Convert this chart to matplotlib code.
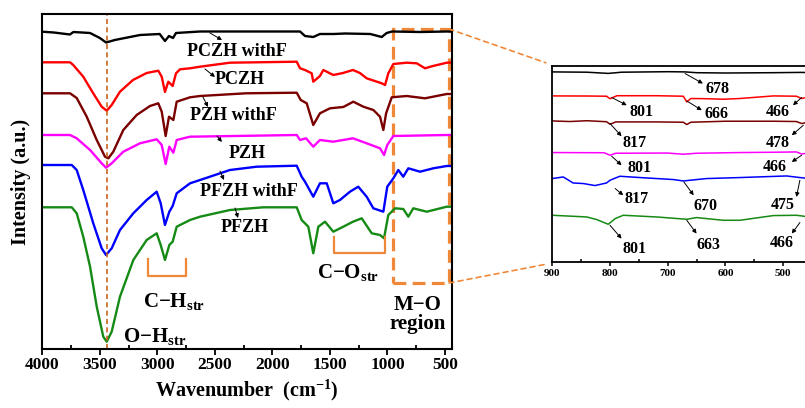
import numpy as np
import matplotlib
matplotlib.use("Agg")
import matplotlib.pyplot as plt
from matplotlib.patches import ConnectionPatch, Rectangle

plt.rcParams.update({
    "font.family": ["Liberation Serif", "DejaVu Serif"],
    "font.weight": "bold",
    "axes.labelweight": "bold",
    "mathtext.fontset": "custom",
    "mathtext.rm": "Liberation Serif:bold",
    "mathtext.it": "Liberation Serif:italic:bold",
    "mathtext.bf": "Liberation Serif:bold",
    "axes.linewidth": 1.5,
})

# ---- main FTIR spectra (wavenumber cm-1, offset intensity a.u.) ----
pczh_f_w = [4000, 3900, 3760, 3730, 3585, 3500, 3446, 3370, 3150, 2980, 2934, 2899,
            2864, 2838, 2630, 1760, 1717, 1645, 1587, 1470, 1367, 1150, 1050, 1007,
            960, 717, 485, 440]
pczh_f_i = [318.3, 317.5, 315.5, 318, 317, 312, 307.5, 310, 315, 316, 309, 314,
            312, 317, 318.5, 318.5, 314, 313, 316, 316, 316.5, 316, 313, 317,
            318.5, 318, 318.5, 318.5]

pczh_w = [4000, 3759, 3731, 3644, 3559, 3484, 3440, 3397, 3325, 3212, 3093, 2992,
          2962, 2934, 2905, 2867, 2838, 2803, 2716, 2629, 2369, 1789, 1760, 1717,
          1659, 1645, 1587, 1558, 1471, 1387, 1300, 1240, 1181, 1050, 1021, 993,
          949, 833, 746, 674, 605, 485, 440]
pczh_i = [287.7, 287.7, 285, 273.3, 257, 243.3, 239.3, 245, 258.3, 270, 277, 279.3,
          273.3, 258, 268.3, 264, 276.7, 280.7, 281.7, 283.3, 287.3, 288.3, 281.7, 280,
          276.7, 268.3, 274, 280, 275, 277, 280, 277, 271.7, 266.7, 265, 276.7,
          286, 287.3, 286.7, 281.7, 284, 287.3, 287.5]

pzh_f_w = [4000, 3759, 3701, 3614, 3527, 3455, 3426, 3383, 3296, 3180, 3064, 2992,
           2962, 2928, 2899, 2861, 2832, 2716, 2629, 2230, 1789, 1754, 1702, 1645,
           1587, 1500, 1384, 1297, 1210, 1123, 1065, 1036, 1012, 963, 833, 674,
           485, 440]
pzh_f_i = [256.7, 256.7, 252, 233.3, 210, 193.3, 191.7, 198.3, 220, 235, 244, 246.7,
           238.3, 214, 233.3, 230, 248.3, 252.7, 254, 256.7, 257.3, 250, 246.7, 225,
           236.7, 241.7, 243, 248.3, 243.3, 240, 233.3, 220, 236.7, 252.7, 254, 251.7,
           256, 256]

pzh_w = [4000, 3759, 3701, 3585, 3484, 3446, 3397, 3296, 3151, 3006, 2962, 2928,
         2896, 2861, 2832, 2716, 1789, 1760, 1708, 1645, 1587, 1471, 1300, 1181,
         1065, 1030, 1002, 949, 485, 440]
pzh_i = [215, 215, 211.7, 200, 186.7, 182.3, 186.7, 198.3, 206.7, 210.7, 205, 186,
         203.3, 197.3, 210, 213.3, 215, 210, 211.7, 203.3, 210, 208.3, 211.7, 206.7,
         201.7, 195, 205, 214, 215, 215]

pfzh_f_w = [4000, 3744, 3701, 3644, 3557, 3484, 3446, 3397, 3325, 3209, 3093, 3006,
            2971, 2934, 2896, 2867, 2832, 2716, 2629, 2369, 2137, 1789, 1746, 1717,
            1645, 1587, 1528, 1471, 1413, 1326, 1254, 1181, 1123, 1036, 1002, 949,
            906, 863, 819, 717, 602, 485, 440]
pfzh_f_i = [185, 185, 180, 160, 126.7, 101.7, 95, 101.7, 120, 136.7, 150, 158.3,
            146.7, 125, 138.3, 144, 156.7, 166.7, 170, 180, 183.3, 184.3, 173.3, 168.3,
            153.3, 166.7, 166.7, 146.7, 150, 158.3, 163.3, 153.3, 141.7, 138.3, 163.3, 171.7,
            180, 173.3, 181.7, 178.3, 181.7, 184, 184]

pfzh_w = [4000, 3744, 3701, 3644, 3585, 3527, 3470, 3440, 3397, 3325, 3209, 3093,
          3006, 2971, 2934, 2896, 2867, 2832, 2716, 2629, 2369, 2079, 1789, 1746,
          1688, 1645, 1601, 1543, 1471, 1384, 1300, 1224, 1137, 1065, 1030, 993,
          934, 863, 819, 776, 659, 485, 440]
pfzh_i = [142.7, 142.7, 136.7, 113.3, 83.3, 43.3, 13.3, 8.3, 18.3, 53.3, 90, 110,
          116.7, 105, 90, 105, 108.3, 123.3, 130, 133.3, 140, 142.7, 142.7, 130,
          123.3, 96.7, 123.3, 128.3, 118.3, 123.3, 128.3, 131.7, 116.7, 115, 111.7, 135,
          141.7, 141, 133.3, 141.7, 138.3, 143.3, 143.3]

# ---- inset: M-O region (900-450 cm-1) ----
in_pczh_f_w = [900, 840, 803, 780, 700, 670, 650, 600, 520, 470, 454]
in_pczh_f_i = [190.3, 190, 188.8, 190, 190.5, 190.3, 189.5, 189.2, 189.5, 189.8, 189.6]
in_pczh_w = [900, 840, 806, 800, 788, 720, 673, 667, 660, 633, 604, 575, 517, 477, 468, 454]
in_pczh_i = [166.3, 166.2, 166, 163.5, 166.5, 166.5, 166, 160.3, 163.7, 163.5, 163, 163.7,
             166.3, 166, 163.7, 165.3]
in_pzh_f_w = [900, 870, 840, 806, 800, 790, 720, 673, 667, 660, 600, 517, 477, 468, 454]
in_pzh_f_i = [141.3, 140.7, 141.5, 140.5, 138, 140.3, 140.3, 140, 137.7, 140, 141, 141,
              140.7, 138.7, 140.3]
in_pzh_w = [900, 810, 800, 790, 700, 673, 650, 575, 517, 477, 468, 454]
in_pzh_i = [109.7, 109.5, 107, 109, 109.2, 108, 109, 109.7, 110, 110.3, 108.3, 109.3]
in_pfzh_f_w = [900, 881, 864, 846, 826, 806, 800, 783, 748, 690, 673, 633, 575, 494, 471, 454]
in_pfzh_f_i = [83.7, 85.3, 79.3, 78.7, 76.7, 79.3, 82, 86, 84.7, 82.7, 81.3, 83.7, 84.7,
               86.3, 84.7, 83.7]
in_pfzh_w = [900, 864, 840, 823, 803, 791, 777, 719, 667, 650, 604, 575, 517, 477, 454]
in_pfzh_i = [47, 46, 45.3, 42.7, 38, 43.7, 47, 45.3, 43, 44.7, 42, 42, 46.7, 47, 45.3]

colors = ["black", "#FF0000", "#7A0000", "#FF00FF", "#0000FF", "#158A15"]
names = ["PCZH withF", "PCZH", "PZH withF", "PZH", "PFZH withF", "PFZH"]
main_series = [(pczh_f_w, pczh_f_i), (pczh_w, pczh_i), (pzh_f_w, pzh_f_i),
               (pzh_w, pzh_i), (pfzh_f_w, pfzh_f_i), (pfzh_w, pfzh_i)]
inset_series = [(in_pczh_f_w, in_pczh_f_i), (in_pczh_w, in_pczh_i), (in_pzh_f_w, in_pzh_f_i),
                (in_pzh_w, in_pzh_i), (in_pfzh_f_w, in_pfzh_f_i), (in_pfzh_w, in_pfzh_i)]

# label text position, arrow tail, arrow head (data coords)
main_labels = [((2308, 299), (2543, 317), (2438, 310)),
               ((2282, 271), (2586, 281), (2499, 273)),
               ((2343, 234), (2604, 253), (2560, 243)),
               ((2221, 197), (2482, 214), (2439, 208)),
               ((2204, 158), (2456, 179), (2421, 170)),
               ((2238, 122), (2325, 142), (2299, 132))]

# inset peak labels: text, position, arrow tail, arrow head
inset_labels = [("678", (613, 173), (670, 188.7), (639, 178.7)),
                ("801", (745, 150.3), (797, 164.7), (771, 157)),
                ("666", (615, 148.7), (667, 161.3), (641, 152)),
                ("466", (509, 150.3), (468, 164.7), (483, 157)),
                ("817", (757, 119.3), (800, 138.7), (780, 126)),
                ("478", (509, 119.3), (465, 137), (485, 127)),
                ("801", (749, 94.3), (797, 106), (780, 97)),
                ("466", (514, 95.3), (468, 107), (485, 100.3)),
                ("817", (754, 63.7), (791, 73.7), (777, 67)),
                ("670", (634, 56), (672, 80.3), (655, 67)),
                ("475", (501, 57), (471, 82), (477, 65.3)),
                ("801", (757, 13.7), (800, 37), (780, 23.7)),
                ("663", (630, 17), (667, 42), (650, 28.7)),
                ("466", (503, 19.3), (471, 39.7), (485, 28.7))]

ORANGE = "#F0883A"
W, H = 805, 408
fig = plt.figure(figsize=(W / 100, H / 100), dpi=100)
ax = fig.add_axes([42.3 / W, 1 - 349 / H, (451.7 - 42.3) / W, (349 - 14) / H])
axi = fig.add_axes([552.3 / W, 1 - 262.3 / H, (812 - 552.3) / W, (262.3 - 65.7) / H])

arrow_kw = dict(arrowstyle="-|>", color="black", lw=0.7, mutation_scale=6,
                shrinkA=0, shrinkB=0)

for (w, i), c in zip(main_series, colors):
    ax.plot(w, i, color=c, lw=1.7)
for name, (pos, tail, head) in zip(names, main_labels):
    ax.text(*pos, name, fontsize=13, ha="center", va="center")
    ax.annotate("", xy=head, xytext=tail, arrowprops=arrow_kw)

ax.axvline(3440, color="#C8641E", lw=1.2, ls=(0, (3, 2)))
# brackets
ax.plot([3081, 3081, 2751, 2751], [91, 74, 74, 91], color=ORANGE, lw=1.6)
ax.plot([1465, 1465, 1022, 1022], [112.7, 96.7, 96.7, 112.7], color=ORANGE, lw=1.6)
ax.add_patch(Rectangle((952, 67), 465 - 952, 321 - 67, fill=False, ec=ORANGE,
                       lw=2.3, ls=(0, (4, 2))))

ax.text(3125, 43.3, r"C$-$H$_{\rm str}$", fontsize=15, ha="left", va="baseline")
ax.text(3296, 8.3, r"O$-$H$_{\rm str}$", fontsize=15, ha="left", va="baseline")
ax.text(1615, 71.7, r"C$-$O$_{\rm str}$", fontsize=15, ha="left", va="baseline")
ax.text(735, 40, "M\u2212O", fontsize=15, ha="center", va="baseline")
ax.text(735, 21, "region", fontsize=15, ha="center", va="baseline")

ax.set_xlim(4000, 442)
ax.set_ylim(1, 336)
ax.set_yticks([])
ax.set_xticks(np.arange(4000, 499, -500))
ax.set_xticks(np.arange(3750, 499, -500), minor=True)
ax.tick_params(axis="x", which="major", direction="out", length=4, width=1.3,
               labelsize=12.5, pad=2)
ax.tick_params(axis="x", which="minor", direction="in", length=3, width=1.3)
ax.set_xlabel("Wavenumber  (cm$^{-1}$)", fontsize=14.5, labelpad=3)
ax.set_ylabel("Intensity (a.u.)", fontsize=14.5, labelpad=8)

for (w, i), c in zip(inset_series, colors):
    axi.plot(w, i, color=c, lw=1.1)
for txt, pos, tail, head in inset_labels:
    axi.text(*pos, txt, fontsize=11.5, ha="center", va="center")
    axi.annotate("", xy=head, xytext=tail, arrowprops=arrow_kw)
axi.set_xlim(900, 450)
axi.set_ylim(0, 196.5)
axi.set_yticks([])
axi.set_xticks([900, 800, 700, 600, 500])
axi.set_xticks([850, 750, 650, 550], minor=True)
axi.tick_params(axis="x", which="major", direction="out", length=3, width=1.1,
                labelsize=8, pad=1.5)
axi.tick_params(axis="x", which="minor", direction="in", length=2.5, width=1.1)
for s in axi.spines.values():
    s.set_linewidth(1.3)

for yb, yi in [(321, 1.015), (67, -0.01)]:
    con = ConnectionPatch(xyA=(465, yb), coordsA=ax.transData,
                          xyB=(-0.025, yi), coordsB=axi.transAxes,
                          color=ORANGE, lw=1.2, ls=(0, (3, 2.5)))
    fig.add_artist(con)

fig.savefig("out.png", dpi=100)
